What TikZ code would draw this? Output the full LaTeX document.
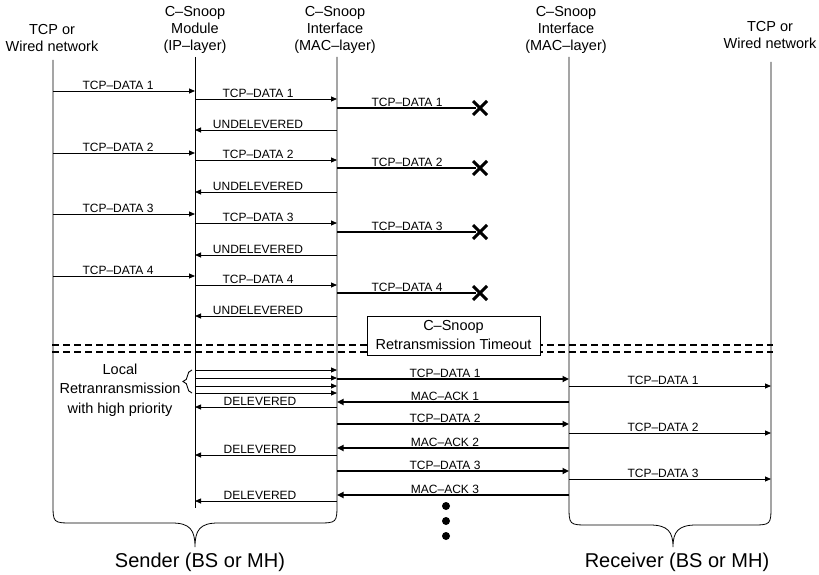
\documentclass[tikz,border=0pt]{standalone}
\usepackage{fontspec}
\setmainfont{Liberation Sans}
\usetikzlibrary{arrows.meta,decorations.pathreplacing}
\begin{document}
\begin{tikzpicture}[x=1pt,y=-1pt,
  msg/.style={line width=0.8pt,-{Triangle[length=6pt,width=5pt]}},
  bmsg/.style={line width=2.4pt,-{Triangle[length=6.5pt,width=6pt]}},
  lbl/.style={font=\fontsize{12}{13}\selectfont,inner sep=1pt,anchor=south},
  head/.style={font=\fontsize{14.5}{17}\selectfont,align=center,inner sep=0pt},
  life/.style={line width=0.8pt},
  cross/.style={line width=3pt},
  sepline/.style={line width=1.6pt,dash pattern=on 7pt off 4pt},
  big/.style={font=\fontsize{20}{24}\selectfont}]
\useasboundingbox (0,0) rectangle (819,575);

% headers
\node[head] (hA) at (52,38) {TCP or\\Wired network};
\node[head] (hB) at (195,30) {C–Snoop\\Module\\(IP–layer)};
\node[head] (hC) at (335,30) {C–Snoop\\Interface\\(MAC–layer)};
\node[head] (hD) at (566,30) {C–Snoop\\Interface\\(MAC–layer)};
\node[head] (hE) at (770,35) {TCP or\\Wired network};

\coordinate (a) at (53,60);
\coordinate (b) at (195,57);
\coordinate (c) at (337,57);
\coordinate (d) at (569,57);
\coordinate (e) at (771,62);

% lifelines and braces
\draw[life] (a) -- (53,503) .. controls (53,523) .. (73,523) -- (172,523)
  .. controls (190,523) and (195,530) .. (195,547)
  .. controls (195,530) and (200,523) .. (218,523) -- (317,523)
  .. controls (337,523) .. (337,503) -- (c);
\draw[life] (b) -- (195,508);
\draw[life] (d) -- (569,505) .. controls (569,525) .. (589,525) -- (650,525)
  .. controls (668,525) and (673,532) .. (673,547)
  .. controls (673,532) and (678,525) .. (696,525) -- (751,525)
  .. controls (771,525) .. (771,505) -- (e);

\node[big] (snd) at (200,562) {Sender (BS or MH)};
\node[big] (rcv) at (677,562) {Receiver (BS or MH)};

% first phase
\foreach \n/\ya/\yb/\yc/\yd in {1/91/99/108/130, 2/153/160/168/192, 3/214/223/232/255, 4/276/285/293/316}{
  \draw[msg] (a|-0,\ya) -- (b|-0,\ya);
  \node[lbl] at (118,\ya) {TCP–DATA \n};
  \draw[msg] (b|-0,\yb) -- (c|-0,\yb);
  \node[lbl] at (258,\yb) {TCP–DATA \n};
  \draw[line width=2.6pt] (c|-0,\yc) -- (476,\yc);
  \node[lbl] at (407,\yc) {TCP–DATA \n};
  \draw[cross] (473,\yc-7) -- (487,\yc+7) (473,\yc+7) -- (487,\yc-7);
  \draw[msg] (c|-0,\yd) -- (b|-0,\yd);
  \node[lbl] at (258,\yd) {UNDELEVERED};
}

% timeout separator
\draw[sepline] (52,345) -- (773,345);
\draw[sepline] (52,352) -- (773,352);
\node[draw,fill=white,line width=0.8pt,minimum width=173pt,minimum height=39pt,
  align=center,font=\fontsize{14.5}{19}\selectfont,inner sep=1pt] (to) at (453.5,335.5)
  {C–Snoop\\Retransmission Timeout};

% local retransmission
\foreach \y in {370,378,386,393}{
  \draw[msg] (b|-0,\y) -- (c|-0,\y);
}
\draw[line width=0.9pt,decorate,decoration={brace,amplitude=9pt}] (192,393) -- (192,370);
\node[font=\fontsize{14.5}{19.5}\selectfont,align=center] (loc) at (120,390)
  {Local\\Retranransmission\\with high priority};

\foreach \y in {407,455,501}{
  \draw[msg] (c|-0,\y) -- (b|-0,\y);
  \node[lbl] at (260,\y) {DELEVERED};
}

% wireless exchange
\foreach \n/\ya/\yb/\yt in {1/379/402/386, 2/424/448/433, 3/471/495/479}{
  \draw[bmsg] (c|-0,\ya) -- (d|-0,\ya);
  \node[lbl] at (445,\ya) {TCP–DATA \n};
  \draw[bmsg] (d|-0,\yb) -- (c|-0,\yb);
  \node[lbl] at (445,\yb) {MAC–ACK \n};
  \draw[msg] (d|-0,\yt) -- (e|-0,\yt);
  \node[lbl] at (663,\yt) {TCP–DATA \n};
}
\foreach \y in {506,521,536}{
  \fill (446,\y) circle (4pt);
}
\end{tikzpicture}
\end{document}
